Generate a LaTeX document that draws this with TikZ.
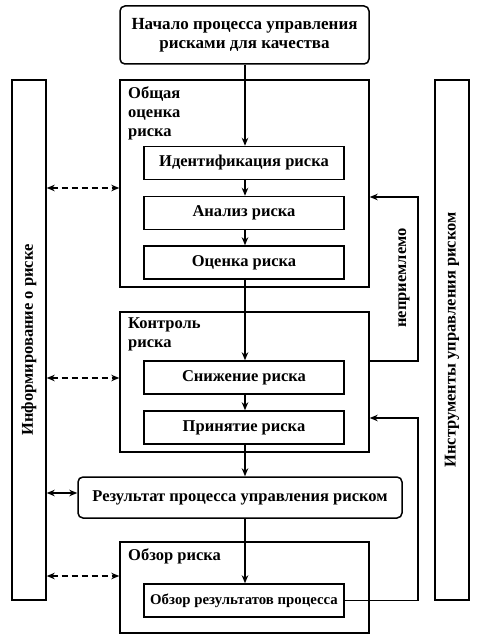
\documentclass[tikz,border=0pt]{standalone}
\usepackage{fontspec}
\setmainfont{Liberation Serif}
\usetikzlibrary{arrows.meta}
\begin{document}
\begin{tikzpicture}[x=1pt,y=-1pt,
  every node/.style={font=\fontsize{16.5}{19}\selectfont\bfseries},
  box/.style={draw,line width=1.5pt,inner sep=0pt,minimum width=200pt,minimum height=33pt},
  grp/.style={draw,line width=1.5pt,inner sep=0pt,minimum width=249pt},
  rbox/.style={draw,line width=1.5pt,rounded corners=5pt,inner sep=0pt},
  bar/.style={draw,line width=1.5pt,inner sep=0pt,minimum width=34pt,minimum height=520pt},
  grplabel/.style={anchor=north west,align=left,inner sep=0pt,font=\fontsize{16.5}{19.2}\selectfont\bfseries},
  arr/.style={line width=1.2pt,-{Stealth[length=8pt,width=6.5pt]}},
  darr/.style={line width=1.2pt,{Stealth[length=8pt,width=6.5pt]}-{Stealth[length=8pt,width=6.5pt]}},
  dasharr/.style={darr,dash pattern=on 6pt off 4pt}
]
\useasboundingbox (0,0) rectangle (500,642);
% outer frames
\node[grp,minimum height=207pt] (g1) at (244.5,183.5) {};
\node[grp,minimum height=140pt] (g2) at (244.5,382) {};
\node[grp,minimum height=91pt] (g3) at (244.5,587.5) {};
\node[grplabel] (g1l) at (128,86) {Общая\\оценка\\риска};
\node[grplabel] (g2l) at (128,317) {Контроль\\риска};
\node[grplabel] (g3l) at (128,548) {Обзор риска};
% start
\node[rbox,minimum width=249pt,minimum height=58pt,align=center,
  font=\fontsize{17}{19.5}\selectfont\bfseries] (start) at (244.5,35) {Начало процесса управления\\рисками для качества};
% inner boxes
\node[box] (ident) at (244,163) {Идентификация риска};
\node[box] (anal) at (244,213) {Анализ риска};
\node[box] (ocen) at (244,262.5) {Оценка риска};
\node[box] (snizh) at (244,377.5) {Снижение риска};
\node[box] (prin) at (244,427.5) {Принятие риска};
\node[rbox,minimum width=324pt,minimum height=41pt] (res) at (240,497.5) {Результат процесса управления риском};
\node[box,font=\fontsize{14.8}{17}\selectfont\bfseries] (obz) at (244,600.5) {Обзор результатов процесса};
% side bars
\node[bar] (lbar) at (29,340) {};
\node[bar] (rbar) at (452,340) {};
\node[rotate=90] (ltext) at (lbar.center) {Информирование о риске};
\node[rotate=90] (rtext) at (rbar.center) {Инструменты управления риском};
% main flow
\draw[arr] (start.south -| 245,0) -- (ident.north -| 245,0);
\draw[arr] (ident.south -| 245,0) -- (anal.north -| 245,0);
\draw[arr] (anal.south -| 245,0) -- (ocen.north -| 245,0);
\draw[arr] (ocen.south -| 245,0) -- (snizh.north -| 245,0);
\draw[arr] (snizh.south -| 245,0) -- (prin.north -| 245,0);
\draw[arr] (prin.south -| 245,0) -- (res.north -| 245,0);
\draw[arr] (res.south -| 245,0) -- (obz.north -| 245,0);
% communication arrows
\coordinate (d1) at (120,188);
\coordinate (d2) at (120,378);
\coordinate (d3) at (120,576);
\draw[dasharr] (lbar.east |- d1) -- (g1.west |- d1);
\draw[dasharr] (lbar.east |- d2) -- (g2.west |- d2);
\draw[dasharr] (lbar.east |- d3) -- (g3.west |- d3);
\draw[darr] (lbar.east |- 0,493) -- (res.west |- 0,493);
% feedback loops
\coordinate (f1a) at (418,361);
\coordinate (f1b) at (418,197);
\draw[arr,line width=1.1pt] (g2.east |- f1a) -- (f1a) -- (f1b) -- (g1.east |- f1b);
\node[rotate=90] (unacc) at (404,278) {неприемлемо};
\coordinate (f2a) at (obz.east -| 418,0);
\coordinate (f2b) at (418,418);
\draw[arr,line width=1.1pt] (obz.east) -- (f2a) -- (f2b) -- (g2.east |- f2b);
\end{tikzpicture}
\end{document}
